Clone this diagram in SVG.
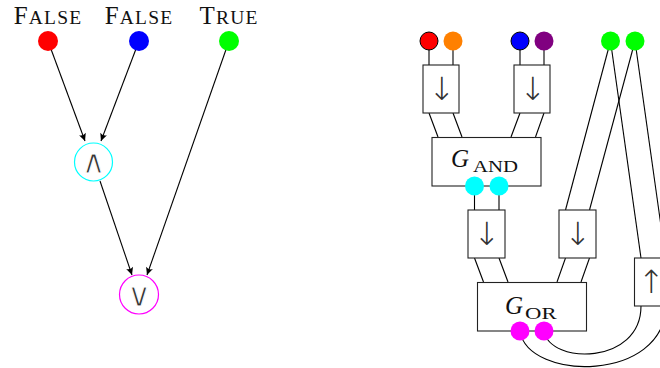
<svg xmlns="http://www.w3.org/2000/svg" width="660" height="368" viewBox="0 0 660 368">
<style>
.ln{stroke:#000;stroke-width:1.1;fill:none}
.bx{fill:#fff;stroke:#222;stroke-width:1.1}
.lbl{font-family:"Liberation Serif",serif;fill:#111}
.arr{font-family:"DejaVu Sans",sans-serif;font-weight:200;font-size:32px;fill:#333;text-anchor:middle}
.op{font-family:"DejaVu Sans",sans-serif;font-size:33px;fill:#333;stroke:#fff;stroke-width:1.1;text-anchor:middle}
</style>
<defs>
<marker id="ah" viewBox="-8 -4 9 8" refX="0" refY="0" markerWidth="9" markerHeight="8" markerUnits="userSpaceOnUse" orient="auto">
<path d="M0,0 L-7.5,-3.6 Q-5,0 -7.5,3.6 Z" fill="#000"/>
</marker>
</defs>
<rect width="660" height="368" fill="#fff"/>
<g id="connectors">
<line class="ln" x1="48" y1="41" x2="85" y2="141" marker-end="url(#ah)"/>
<line class="ln" x1="139" y1="41" x2="101" y2="141" marker-end="url(#ah)"/>
<line class="ln" x1="100" y1="181" x2="132" y2="275" marker-end="url(#ah)"/>
<line class="ln" x1="229" y1="41" x2="147" y2="275" marker-end="url(#ah)"/>
<line class="ln" x1="429" y1="41" x2="429" y2="65"/>
<line class="ln" x1="453" y1="41" x2="453" y2="65"/>
<line class="ln" x1="520" y1="41" x2="520" y2="65"/>
<line class="ln" x1="544" y1="41" x2="544" y2="65"/>
<line class="ln" x1="429" y1="113" x2="438" y2="137"/>
<line class="ln" x1="453" y1="113" x2="462" y2="137"/>
<line class="ln" x1="520" y1="113" x2="511" y2="137"/>
<line class="ln" x1="544" y1="113" x2="535.5" y2="137"/>
<line class="ln" x1="474.5" y1="186" x2="474.5" y2="210"/>
<line class="ln" x1="499" y1="186" x2="499" y2="210"/>
<line class="ln" x1="474.5" y1="258" x2="483.5" y2="282"/>
<line class="ln" x1="499" y1="258" x2="508" y2="282"/>
<line class="ln" x1="565.5" y1="258" x2="557" y2="282"/>
<line class="ln" x1="589.5" y1="258" x2="581" y2="282"/>
<line class="ln" x1="610.5" y1="41" x2="565.5" y2="210"/>
<line class="ln" x1="635" y1="41" x2="589.5" y2="210"/>
<line class="ln" x1="610.5" y1="41" x2="641" y2="258"/>
<line class="ln" x1="635" y1="41" x2="665.5" y2="258"/>
<path class="ln" d="M544,331 C550,365 641,365 641,306"/>
<path class="ln" d="M520,331 C528,382 665.5,382 665.5,306"/>
</g>
<g id="lbl-false1"><text class="lbl" x="48" y="24" text-anchor="middle" font-size="25" letter-spacing="1.2">F<tspan font-size="19.5">ALSE</tspan></text></g>
<g id="lbl-false2"><text class="lbl" x="139" y="24" text-anchor="middle" font-size="25" letter-spacing="1.2">F<tspan font-size="19.5">ALSE</tspan></text></g>
<g id="lbl-true"><text class="lbl" x="229" y="24" text-anchor="middle" font-size="25" letter-spacing="1.2">T<tspan font-size="19.5">RUE</tspan></text></g>
<g id="in-red"><circle cx="48" cy="41" r="10" fill="#ff0000"/></g>
<g id="in-blue"><circle cx="139" cy="41" r="10" fill="#0000ff"/></g>
<g id="in-green"><circle cx="229" cy="41" r="10" fill="#00ff00"/></g>
<g id="and"><circle cx="93.5" cy="162" r="19" fill="#fff" stroke="#00ffff" stroke-width="1.2"/><text class="op" x="93.5" y="173">∧</text></g>
<g id="or"><circle cx="139" cy="294.5" r="19.5" fill="#fff" stroke="#ff00ff" stroke-width="1.2"/><text class="op" x="139" y="306">∨</text></g>
<g id="r-red"><circle cx="429" cy="41" r="9" fill="#ff0000" stroke="#000" stroke-width="1"/></g>
<g id="r-orange"><circle cx="453" cy="41" r="9.5" fill="#ff8000"/></g>
<g id="r-blue"><circle cx="520" cy="41" r="9" fill="#0000ff" stroke="#000" stroke-width="1"/></g>
<g id="r-purple"><circle cx="544" cy="41" r="9.5" fill="#800080"/></g>
<g id="r-green1"><circle cx="610.5" cy="41" r="9.5" fill="#00ff00"/></g>
<g id="r-green2"><circle cx="635" cy="41" r="9.5" fill="#00ff00"/></g>
<g id="box1"><rect class="bx" x="423" y="65" width="36" height="48"/><text class="arr" x="442" y="100">↓</text></g>
<g id="box2"><rect class="bx" x="514" y="65" width="36" height="48"/><text class="arr" x="533" y="100">↓</text></g>
<g id="gand"><rect class="bx" x="432" y="137.5" width="109" height="48.5"/><text class="lbl" x="451" y="167" font-size="25" font-style="italic">G</text><text class="lbl" x="473" y="172" font-size="16.5" textLength="45" lengthAdjust="spacingAndGlyphs">AND</text></g>
<g id="cyan1"><circle cx="474.5" cy="186" r="9.5" fill="#00ffff"/></g>
<g id="cyan2"><circle cx="499" cy="186" r="9.5" fill="#00ffff"/></g>
<g id="box3"><rect class="bx" x="468" y="210" width="37" height="48"/><text class="arr" x="487" y="245">↓</text></g>
<g id="box4"><rect class="bx" x="559" y="210" width="37" height="48"/><text class="arr" x="578" y="245">↓</text></g>
<g id="box5"><rect class="bx" x="634.5" y="258" width="37" height="48"/><text class="arr" x="651.5" y="293">↑</text></g>
<g id="gor"><rect class="bx" x="477.5" y="282.5" width="109" height="48.5"/><text class="lbl" x="505" y="314" font-size="25" font-style="italic">G</text><text class="lbl" x="525" y="318.5" font-size="16.5" textLength="31.5" lengthAdjust="spacingAndGlyphs">OR</text></g>
<g id="mag1"><circle cx="520" cy="331" r="9.5" fill="#ff00ff"/></g>
<g id="mag2"><circle cx="544" cy="331" r="9.5" fill="#ff00ff"/></g>
</svg>
